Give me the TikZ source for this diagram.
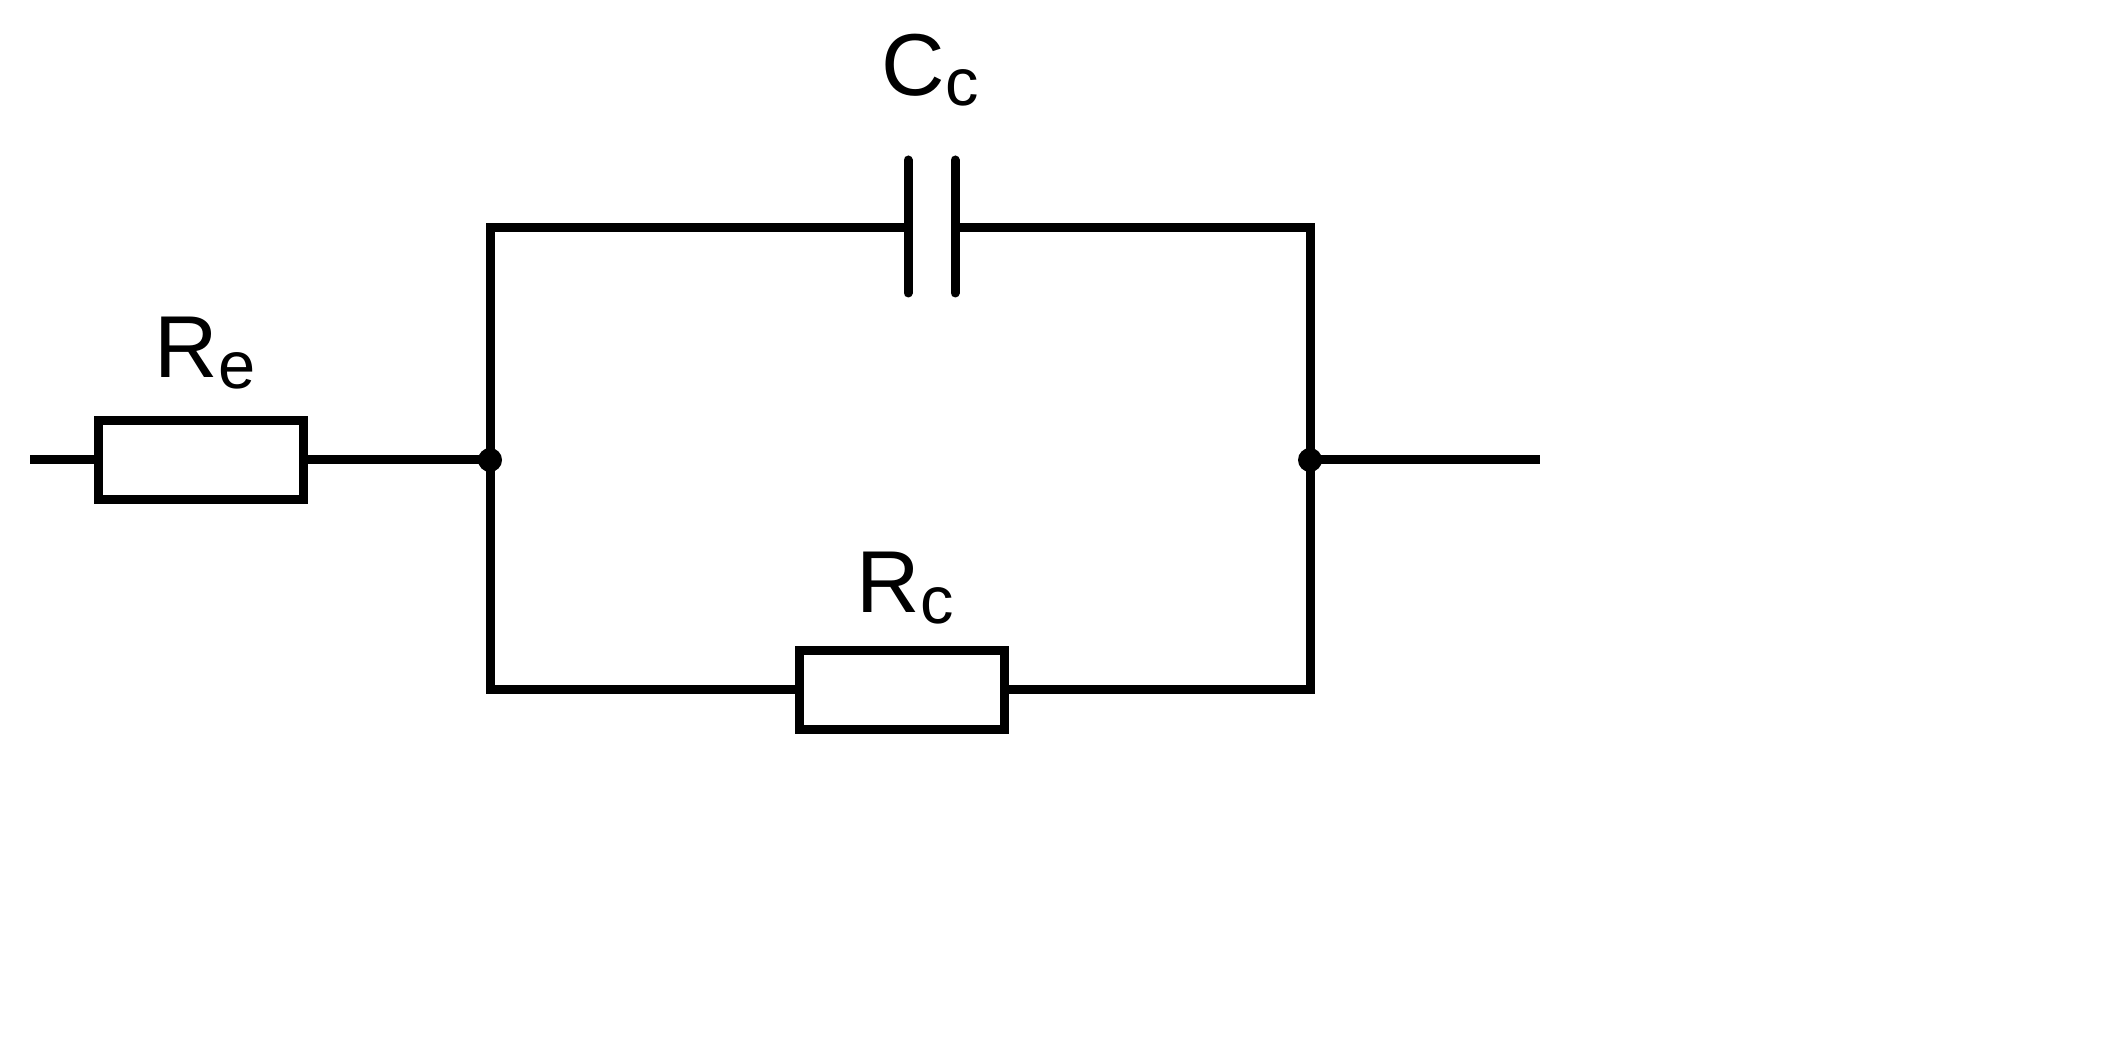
\documentclass[tikz,border=0pt]{standalone}
\usepackage{fontspec}
\setmainfont{Liberation Sans}
\begin{document}
\begin{tikzpicture}[x=0.01cm,y=-0.01cm,
  w/.style={line width=0.09cm},
  res/.style={draw,line width=0.09cm,minimum width=2.05cm,minimum height=0.78cm,inner sep=0pt},
  dot/.style={circle,fill=black,minimum size=0.24cm,inner sep=0pt},
  lab/.style={font=\fontsize{25}{25}\selectfont,inner sep=0pt}]
\useasboundingbox (0,0) rectangle (2111,1037);
\coordinate (in) at (30,460);
\node[res] (Re) at (201,460) {};
\node[dot] (n1) at (490,460) {};
\node[dot] (n2) at (1310,460) {};
\coordinate (out) at (1540,460);
\coordinate (tl) at (490,228);
\coordinate (tr) at (1310,228);
\coordinate (bl) at (490,690);
\coordinate (br) at (1310,690);
\coordinate (cl) at (908,228);
\coordinate (cr) at (955,228);
\node[res] (Rc) at (902,690) {};
\draw[w] (in) -- (Re.west);
\draw[w] (Re.east) -- (n1.center);
\draw[w] (n2.center) -- (out);
\draw[w] (Rc.west) -- (bl) -- (tl) -- (cl);
\draw[w] (cr) -- (tr) -- (br) -- (Rc.east);
\draw[w,line cap=round] (908,160) -- (908,293);
\draw[w,line cap=round] (955,160) -- (955,293);
\node[lab] (lc) at (930,70) {C\raisebox{-0.12em}{\fontsize{19}{19}\selectfont c}};
\node[lab] (le) at (205,353) {R\raisebox{-0.12em}{\fontsize{19}{19}\selectfont e}};
\node[lab] (lr) at (905,588) {R\raisebox{-0.12em}{\fontsize{19}{19}\selectfont c}};
\end{tikzpicture}
\end{document}
